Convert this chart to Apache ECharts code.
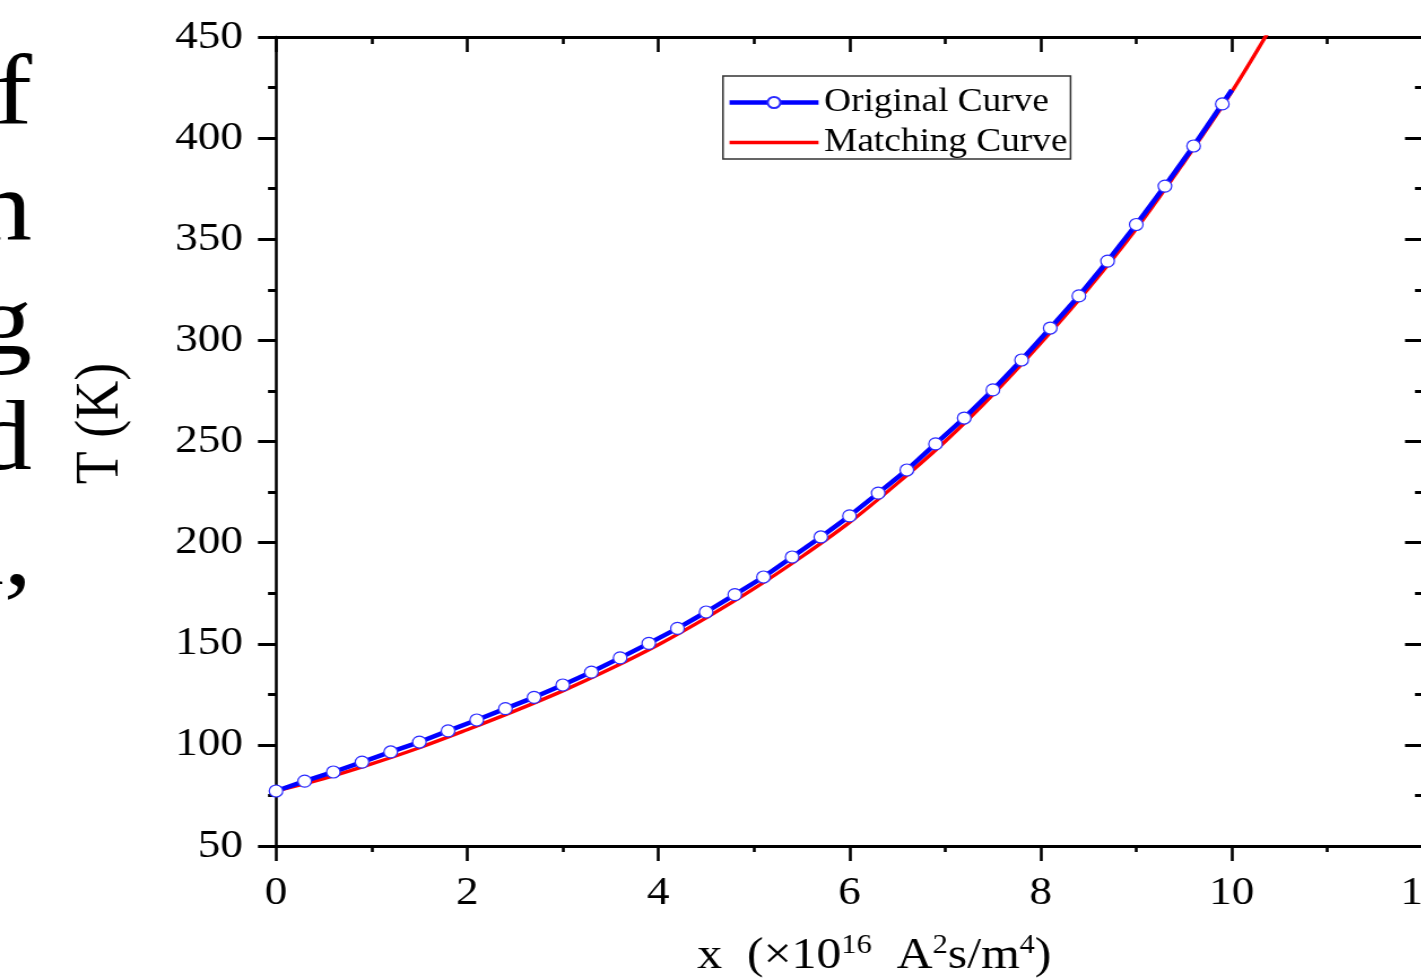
<!DOCTYPE html>
<html>
<head>
<meta charset="utf-8">
<script src="https://cdn.jsdelivr.net/npm/echarts@6/dist/echarts.min.js"></script>
<style>
html, body { margin: 0; padding: 0; background: #fff; overflow: hidden; width: 1421px; height: 978px; }
#chart { width: 1258px; height: 978px; transform: scaleX(1.13); transform-origin: 0 0; }
</style>
</head>
<body>
<div id="chart"></div>
<script>
// ---- data ----
const originalX = [0, 0.3, 0.6, 0.9, 1.2, 1.5, 1.8, 2.1, 2.4, 2.7, 3.0, 3.3, 3.6, 3.9, 4.2, 4.5, 4.8, 5.1, 5.4, 5.7,
                   6.0, 6.3, 6.6, 6.9, 7.2, 7.5, 7.8, 8.1, 8.4, 8.7, 9.0, 9.3, 9.6, 9.9, 10.0];
const originalT = [77.2, 82.1, 86.6, 91.5, 96.5, 101.4, 106.9, 112.3, 117.9, 123.5, 129.6, 136.0, 143.0, 150.2, 157.6, 165.7, 174.3, 183.0, 192.9, 202.8,
                   213.2, 224.5, 235.9, 248.8, 261.6, 275.5, 290.3, 306.1, 322.0, 339.2, 357.3, 376.3, 396.1, 416.9, 423.8];
const matchingX = [0, 0.5, 1, 1.5, 2, 2.5, 3, 3.5, 4, 4.5, 5, 5.5, 6, 6.5, 7, 7.5, 8, 8.5, 9, 9.5, 10, 10.4];
const matchingT = [77.2, 83.3, 90.6, 98.6, 107.5, 116.8, 126.7, 137.6, 149.5, 162.8, 177.2, 193.0, 210.0, 229.3, 250.0, 273.2, 298.6, 325.7, 355.2, 388.2, 423.0, 454.0];
const seriesNames = ['Original Curve', 'Matching Curve'];
const yTickLabels = ['50', '100', '150', '200', '250', '300', '350', '400', '450'];
const xTickLabels = ['0', '2', '4', '6', '8', '10', '12'];
const sideText = ['f', 'n', 'g', 'd', 'x,'];   // cropped fragments of the page text at the left edge

// ---- layout ----
const S = 1.13;              // horizontal stretch of the reference picture
const FONT = '"Liberation Serif", "Times New Roman", serif';
const px = v => v / S;       // screen x -> chart x

const chart = echarts.init(document.getElementById('chart'), null, { renderer: 'canvas' });

const blueData = originalX.map((x, i) => {
  const item = { value: [x, originalT[i]] };
  if (i === originalX.length - 1) item.symbol = 'none';
  return item;
});
const redData = matchingX.map((x, i) => [x, matchingT[i]]);

const sideBaselines = [120, 235, 350, 465, 580];
const graphics = sideText.map((t, i) => ({
  type: 'text',
  x: px(32),
  y: sideBaselines[i] - 22,
  style: { text: t, font: '100px ' + FONT, fill: '#000', align: 'right', verticalAlign: 'middle' },
  silent: true
}));

const commonX = { type: 'value', min: 0, max: 12, interval: 2 };
const commonY = { type: 'value', min: 50, max: 450, interval: 50 };

chart.setOption({
  animation: false,
  backgroundColor: '#fff',
  graphic: graphics,
  grid: { left: px(276), top: 37, width: px(1423 - 276), height: 809, containLabel: false, outerBoundsMode: 'none' },
  legend: {
    data: [
      { name: seriesNames[0], lineStyle: { width: 4.5, color: '#0000ff' } },
      { name: seriesNames[1], lineStyle: { width: 3.4, color: '#ff0000' },
        itemStyle: { color: 'rgba(0,0,0,0)', borderWidth: 0, opacity: 0 } }
    ],
    orient: 'vertical',
    left: px(723), top: 76,
    padding: [10, px(3), 0, px(4)],
    itemGap: 7,
    itemWidth: px(816 - 727), itemHeight: 14,
    borderColor: '#333', borderWidth: 1.5, borderRadius: 0,
    backgroundColor: '#fff',
    textStyle: { fontFamily: FONT, fontSize: 33, color: '#000', lineHeight: 33 }
  },
  xAxis: [
    Object.assign({}, commonX, {
      position: 'bottom',
      name: 'x  (×10{s|16}  A{s|2}s/m{s|4})',
      nameLocation: 'middle', nameGap: 86,
      nameTextStyle: {
        fontFamily: FONT, fontSize: 44, color: '#000', lineHeight: 48, padding: [0, 0, 0, 44],
        rich: { s: { fontFamily: FONT, fontSize: 27, color: '#000', verticalAlign: 'top', lineHeight: 48 } }
      },
      axisLine: { show: true, lineStyle: { color: '#000', width: 3 } },
      axisTick: { show: true, inside: false, length: 15, lineStyle: { color: '#000', width: 2.6 } },
      minorTick: { show: true, splitNumber: 2, length: 6, lineStyle: { color: '#000', width: 2.6 } },
      axisLabel: { show: true, margin: 27, fontFamily: FONT, fontSize: 40, color: '#000',
                   showMinLabel: true, showMaxLabel: true, hideOverlap: false,
                   formatter: v => xTickLabels[Math.round(v / 2)] },
      splitLine: { show: false }
    }),
    Object.assign({}, commonX, {
      position: 'top',
      axisLine: { show: true, onZero: false, lineStyle: { color: '#000', width: 3 } },
      axisTick: { show: true, inside: true, length: 15, lineStyle: { color: '#000', width: 2.6 } },
      minorTick: { show: true, splitNumber: 2, length: 7, lineStyle: { color: '#000', width: 2.6 } },
      axisLabel: { show: false },
      splitLine: { show: false }
    })
  ],
  yAxis: [
    Object.assign({}, commonY, {
      position: 'left',
      name: 'T (K)',
      nameLocation: 'middle', nameGap: 127,
      nameTextStyle: { fontFamily: FONT, fontSize: 54, color: '#000', padding: [0, 0, 0, 36] },
      axisLine: { show: true, onZero: false, lineStyle: { color: '#000', width: 2.6 } },
      axisTick: { show: true, inside: false, length: px(18), lineStyle: { color: '#000', width: 3 } },
      minorTick: { show: true, splitNumber: 2, length: px(8), lineStyle: { color: '#000', width: 3 } },
      axisLabel: { show: true, margin: px(33), fontFamily: FONT, fontSize: 40, color: '#000',
                   showMinLabel: true, showMaxLabel: true, hideOverlap: false,
                   formatter: v => yTickLabels[Math.round((v - 50) / 50)] },
      splitLine: { show: false }
    }),
    Object.assign({}, commonY, {
      position: 'right',
      axisLine: { show: true, onZero: false, lineStyle: { color: '#000', width: 2.6 } },
      axisTick: { show: true, inside: true, length: px(18), lineStyle: { color: '#000', width: 3 } },
      minorTick: { show: true, splitNumber: 2, length: px(8), lineStyle: { color: '#000', width: 3 } },
      axisLabel: { show: false },
      splitLine: { show: false }
    })
  ],
  series: [
    {
      name: seriesNames[0], type: 'line', xAxisIndex: 0, yAxisIndex: 0, z: 4,
      data: blueData,
      symbol: 'circle', symbolSize: 12, showSymbol: true,
      lineStyle: { color: '#0000ff', width: 4.5 },
      itemStyle: { color: '#ffffff', borderColor: '#2a2aff', borderWidth: 1.2 },
      emphasis: { disabled: true }
    },
    {
      name: seriesNames[1], type: 'line', xAxisIndex: 0, yAxisIndex: 0, z: 3,
      data: redData, smooth: 0.35,
      symbol: 'none', showSymbol: false,
      lineStyle: { color: '#ff0000', width: 3.4 },
      itemStyle: { color: '#ff0000' },
      emphasis: { disabled: true }
    }
  ]
});
</script>
</body>
</html>
